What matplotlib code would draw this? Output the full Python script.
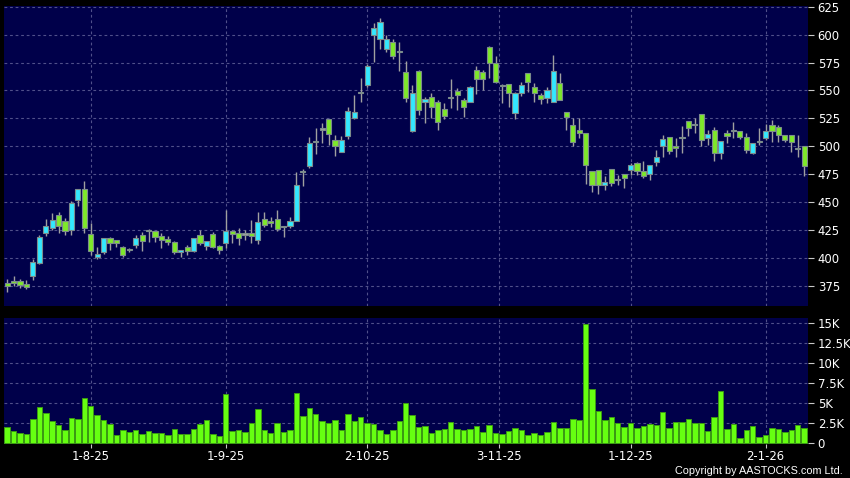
import matplotlib
matplotlib.use('Agg')
import matplotlib.pyplot as plt
from matplotlib.ticker import FixedLocator, FuncFormatter

# ================= data =================
opens = [378, 379.5, 379, 377, 384, 395.5, 422.5, 427, 438.5, 433.5,
         425, 452, 462, 421.5, 400.5, 405, 417.5, 416.5, 410, 407.5,
         412, 421, 425, 424.5, 420, 417, 414, 405, 410, 406,
         421, 411, 421.5, 410.5, 413, 424, 422.5, 421.5, 422.5, 416.5,
         434.5, 433, 435, 428.5, 428.5, 433.5, 477.5, 482, 504.5, 515.5,
         524, 505.5, 494.5, 509, 525, 548, 554.5, 600, 596, 587,
         593, 584, 566.5, 514, 567.5, 539.5, 544.5, 540, 533, 544,
         549.5, 541.5, 540, 568, 566.5, 589, 574.5, 554.5, 555.5, 529.5,
         547.5, 565.5, 553, 545.5, 543.5, 539.5, 556.5, 530.5, 519.5, 514.5,
         512, 477.5, 478.5, 465, 480, 470, 475, 479, 485, 477.5,
         475, 485.5, 500, 508.5, 500.5, 507.5, 522.5, 519.5, 528.5, 507,
         515, 494, 511.5, 514.5, 514, 508.5, 494, 505, 507, 519.5,
         517.5, 510, 510, 498, 500.5]
highs = [381, 384, 381, 380, 399.5, 421, 435, 440.5, 441, 435.5,
         451, 462, 468.5, 431, 410, 418, 418.5, 416.5, 410.5, 409,
         421, 423, 425.5, 424.5, 422, 420, 415.5, 407.5, 411.5, 417.5,
         425, 415, 423, 412, 443, 425, 427, 425, 434, 441,
         441, 436.5, 443, 429, 437, 477, 480, 508.5, 516.5, 521,
         524, 510.5, 509.5, 535.5, 546, 561.5, 573.5, 610, 614.5, 600,
         596.5, 593, 576.5, 555, 568.5, 544.5, 547.5, 541.5, 538.5, 560,
         552, 543, 554, 571.5, 568.5, 590, 581, 555.5, 555.5, 549,
         558, 565.5, 556.5, 547.5, 553, 581.5, 566, 531, 525, 525,
         512, 477.5, 478.5, 473, 480, 474.5, 475, 485, 486, 486.5,
         483, 497, 510.5, 508.5, 507.5, 518, 523, 525, 528.5, 514.5,
         517.5, 504.5, 514.5, 521.5, 514, 511.5, 502.5, 516, 520, 523.5,
         519, 510, 510, 510, 500.5]
lows = [369.5, 375, 373, 372.5, 380.5, 395, 419.5, 425, 422.5, 421,
        421, 446.5, 422.5, 403, 399.5, 404, 407.5, 410, 400.5, 405,
        409, 406.5, 414, 414.5, 409, 412, 403.5, 400.5, 403, 405.5,
        411.5, 407.5, 408.5, 404, 408.5, 413.5, 411.5, 416.5, 413, 412.5,
        428, 428, 424, 419, 426.5, 433, 464, 480.5, 493.5, 502.5,
        501.5, 491, 494.5, 506.5, 524, 539.5, 553.5, 575.5, 587, 584,
        578, 567.5, 540, 513, 528, 520.5, 525, 515, 524, 534,
        532.5, 526, 539.5, 547, 550.5, 561, 556.5, 538.5, 535.5, 524.5,
        545, 549, 540, 538, 538.5, 539.5, 541.5, 515, 500.5, 507,
        466.5, 459.5, 457.5, 461, 464, 465.5, 463, 474.5, 474.5, 471.5,
        469.5, 482, 490.5, 493.5, 490.5, 494, 509.5, 511.5, 500, 501,
        487, 488.5, 502.5, 507, 506.5, 494, 493, 501, 505.5, 504,
        504, 504, 495, 490, 473]
closes = [374.5, 378, 375.5, 374, 396, 419, 428.5, 434, 428.5, 424,
          449.5, 462, 427, 406.5, 404, 418, 413, 413, 402.5, 407.5,
          417.5, 415.5, 424, 419, 416, 414, 405, 407, 406, 417.5,
          413, 415, 410, 407, 424, 421.5, 417.5, 421.5, 420, 432,
          429.5, 431.5, 425.5, 428.5, 433.5, 465.5, 477.5, 503, 504.5, 515.5,
          511, 500.5, 506, 532, 531, 548, 571.5, 605.5, 611, 596.5,
          581, 585.5, 543, 547.5, 532.5, 542.5, 535, 521.5, 527.5, 544,
          545.5, 535, 553, 560.5, 560, 574.5, 558, 554.5, 547.5, 547.5,
          554.5, 558, 547.5, 542, 550.5, 567, 541.5, 526, 503.5, 512,
          483, 465, 465, 468, 467, 470, 472, 483, 477.5, 473,
          483, 490.5, 506.5, 495.5, 498.5, 507.5, 516, 519.5, 505.5, 511,
          494, 504.5, 509, 514.5, 508, 497, 502.5, 503.5, 514, 514,
          510, 505.5, 503.5, 498, 482.5]
# volume in thousands
volumes = [2.0, 1.5, 1.3, 1.1, 3.0, 4.5, 3.8, 2.8, 2.3, 1.7,
           3.2, 3.0, 5.6, 4.6, 3.5, 2.9, 2.4, 1.0, 1.6, 1.4,
           1.6, 1.2, 1.5, 1.25, 1.3, 1.0, 1.8, 1.2, 1.1, 1.75,
           2.4, 2.9, 1.2, 0.9, 6.1, 1.5, 1.6, 1.4, 2.5, 4.3,
           1.7, 1.3, 2.5, 1.4, 1.7, 6.3, 3.4, 4.4, 3.6, 2.8,
           2.5, 2.9, 1.6, 3.7, 2.8, 3.25, 2.5, 2.4, 1.6, 1.2,
           1.6, 2.8, 5.0, 3.5, 2.0, 2.2, 1.3, 1.6, 1.75, 2.7,
           1.8, 1.6, 1.75, 2.2, 1.4, 2.3, 1.3, 1.1, 1.5, 1.9,
           1.6, 1.0, 1.25, 1.0, 1.4, 2.6, 1.9, 1.9, 3.0, 2.9,
           14.8, 6.75, 4.0, 2.9, 3.3, 2.5, 2.0, 2.5, 1.9, 2.2,
           2.4, 2.25, 3.9, 1.9, 2.6, 2.6, 3.0, 2.5, 2.5, 1.5,
           3.25, 6.5, 1.8, 2.4, 0.6, 1.7, 2.2, 0.8, 1.0, 1.95,
           1.8, 1.4, 1.7, 2.25, 1.9]
date_ticks = [13, 34, 56, 76.5, 97, 118]
date_labels = ['1-8-25', '1-9-25', '2-10-25', '3-11-25', '1-12-25', '2-1-26']
price_ticks = [375, 400, 425, 450, 475, 500, 525, 550, 575, 600, 625]
vol_ticks = [0, 2.5, 5, 7.5, 10, 12.5, 15]

# ================= style =================
BG = '#000000'
PANEL = '#00004a'
GRID = '#50508a'
UP = '#33e8ff'
DOWN = '#7ee82a'
EDGE = '#7c8c8c'
WICK = '#a0a0a0'
VOL = '#66ff11'
VOL_EDGE = '#3c9a14'
TXT = '#ffffff'
FS = 8.4

W, H = 850, 478
fig = plt.figure(figsize=(W / 100, H / 100), dpi=100, facecolor=BG)
ax = fig.add_axes([4 / W, 1 - 306 / H, 804 / W, 300 / H])
axv = fig.add_axes([4 / W, 1 - 444 / H, 804 / W, 126 / H])

n = len(closes)
xs = list(range(n))
BW = 0.8

for a in (ax, axv):
    a.set_facecolor(PANEL)
    for s in a.spines.values():
        s.set_visible(False)
    a.set_xlim(-0.5, n - 0.4)
    a.yaxis.tick_right()
    a.tick_params(axis='y', colors='#c8c8c8', labelcolor=TXT, labelsize=FS,
                  length=4, width=0.8, pad=3)
    a.grid(True, color=GRID, linestyle=(0, (2.5, 2.5)), linewidth=0.8)
    a.set_axisbelow(True)

# ---------- candles ----------
ax.vlines(xs, lows, highs, color=WICK, linewidth=1.0, zorder=2)
for i in xs:
    o, c = opens[i], closes[i]
    if c > o:
        col = UP
    elif c < o:
        col = DOWN
    else:
        col = WICK
    lo, hi = min(o, c), max(o, c)
    if hi - lo < 0.8:
        lo, hi = lo - 0.5, hi + 0.5
    ax.bar(i, hi - lo, bottom=lo, width=BW, color=col,
           edgecolor=EDGE, linewidth=0.8, zorder=3)

ax.set_ylim(357, 625.6)
ax.yaxis.set_major_locator(FixedLocator(price_ticks))
ax.xaxis.set_major_locator(FixedLocator(date_ticks))
ax.tick_params(axis='x', length=0, labelbottom=False)

# ---------- volume ----------
axv.bar(xs, volumes, width=0.85, color=VOL, edgecolor=VOL_EDGE,
        linewidth=0.7, zorder=3)
axv.set_ylim(-0.1, 15.6)
axv.yaxis.set_major_locator(FixedLocator(vol_ticks))
axv.yaxis.set_major_formatter(FuncFormatter(
    lambda v, p: '0' if v == 0 else ('%gK' % v)))
axv.xaxis.set_major_locator(FixedLocator(date_ticks))
axv.set_xticklabels(date_labels)
axv.tick_params(axis='x', colors='#c8c8c8', labelcolor=TXT, labelsize=FS,
                length=3, width=0.8, pad=1.5)

fig.text(843 / W, 1 - 471 / H, 'Copyright by AASTOCKS.com Ltd.',
         color=TXT, fontsize=7.8, ha='right', va='center',
         family=['Liberation Sans', 'DejaVu Sans'])

fig.savefig('out.png', dpi=100, facecolor=BG)
